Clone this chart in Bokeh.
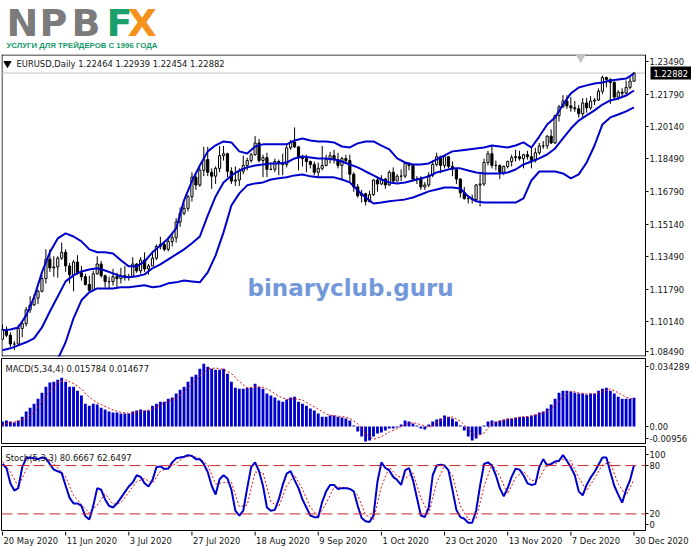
from bokeh.plotting import figure
from bokeh.layouts import column
from bokeh.models import Range1d, FixedTicker, Span, Label
from bokeh.embed import file_html
from bokeh.resources import INLINE
from bokeh.core.properties import value

# ---------------- texts ----------------
logo_letters = ["N", "P", "B", "F", "X"]
logo_subtitle = "УСЛУГИ ДЛЯ ТРЕЙДЕРОВ С 1996 ГОДА"
symbol_header = "EURUSD,Daily 1.22464 1.22939 1.22454 1.22882"
macd_header = "MACD(5,34,4) 0.015784 0.014677"
stoch_header = "Stoch(5,3,3) 80.6667 62.6497"
watermark = "binaryclub.guru"
last_close = 1.22882

date_tick_bars = [0, 16, 32, 48, 64, 80, 96, 112, 128, 144, 160]
date_tick_labels = ["20 May 2020", "11 Jun 2020", "3 Jul 2020", "27 Jul 2020", "18 Aug 2020",
                    "9 Sep 2020", "1 Oct 2020", "23 Oct 2020", "13 Nov 2020", "7 Dec 2020", "30 Dec 2020"]
price_tick_pos = [1.08618, 1.10140, 1.11790, 1.13490, 1.15140, 1.16790, 1.18490, 1.20140, 1.21790, 1.23490]
price_tick_text = ["1.08490", "1.10140", "1.11790", "1.13490", "1.15140", "1.16790", "1.18490",
                   "1.20140", "1.21790", "1.23490"]
macd_tick_pos = [0.0328, 0.0, -0.0064]
macd_tick_text = ["0.034289", "0.00", "-0.00956"]
stoch_tick_pos = [93.8, 80, 20, 6.8]
stoch_tick_text = ["100", "80", "20", "0"]
stoch_levels = [80, 20]

# ---------------- daily candles (bar 0 = 20 May 2020 ... bar 160 = 30 Dec 2020) ----------------
opens = [
    1.0925, 1.0975, 1.0945, 1.0900, 1.0900, 1.0980, 1.1005, 1.1075, 1.1100, 1.1135,
    1.1170, 1.1235, 1.1335, 1.1290, 1.1295, 1.1340, 1.1370, 1.1300, 1.1255, 1.1320,
    1.1265, 1.1245, 1.1205, 1.1175, 1.1260, 1.1310, 1.1250, 1.1220, 1.1220, 1.1245,
    1.1235, 1.1250, 1.1240, 1.1245, 1.1310, 1.1275, 1.1330, 1.1285, 1.1300, 1.1340,
    1.1400, 1.1410, 1.1385, 1.1425, 1.1445, 1.1525, 1.1570, 1.1595, 1.1655, 1.1755,
    1.1715, 1.1790, 1.1845, 1.1780, 1.1760, 1.1800, 1.1865, 1.1875, 1.1785, 1.1735,
    1.1740, 1.1785, 1.1815, 1.1840, 1.1870, 1.1930, 1.1840, 1.1855, 1.1795, 1.1795,
    1.1835, 1.1830, 1.1820, 1.1905, 1.1935, 1.1910, 1.1855, 1.1850, 1.1835, 1.1820,
    1.1780, 1.1800, 1.1815, 1.1845, 1.1865, 1.1845, 1.1815, 1.1850, 1.1840, 1.1770,
    1.1705, 1.1660, 1.1670, 1.1630, 1.1665, 1.1740, 1.1720, 1.1745, 1.1715, 1.1780,
    1.1735, 1.1760, 1.1760, 1.1825, 1.1815, 1.1745, 1.1745, 1.1705, 1.1715, 1.1765,
    1.1820, 1.1860, 1.1815, 1.1860, 1.1810, 1.1795, 1.1745, 1.1675, 1.1645, 1.1645,
    1.1640, 1.1715, 1.1720, 1.1830, 1.1875, 1.1815, 1.1815, 1.1780, 1.1810, 1.1835,
    1.1855, 1.1860, 1.1850, 1.1870, 1.1860, 1.1840, 1.1880, 1.1915, 1.1915, 1.1965,
    1.1930, 1.2070, 1.2115, 1.2145, 1.2120, 1.2110, 1.2105, 1.2080, 1.2135, 1.2110,
    1.2145, 1.2150, 1.2195, 1.2265, 1.2255, 1.2240, 1.2165, 1.2190, 1.2185, 1.2215,
    1.22464]
highs = [
    1.1000, 1.0990, 1.0960, 1.0915, 1.1000, 1.1010, 1.1090, 1.1145, 1.1155, 1.1180,
    1.1255, 1.1385, 1.1385, 1.1350, 1.1350, 1.1420, 1.1385, 1.1315, 1.1330, 1.1355,
    1.1300, 1.1260, 1.1250, 1.1275, 1.1350, 1.1325, 1.1255, 1.1245, 1.1285, 1.1265,
    1.1290, 1.1300, 1.1260, 1.1345, 1.1315, 1.1345, 1.1370, 1.1310, 1.1375, 1.1410,
    1.1450, 1.1425, 1.1450, 1.1470, 1.1545, 1.1600, 1.1620, 1.1665, 1.1780, 1.1770,
    1.1805, 1.1910, 1.1910, 1.1800, 1.1810, 1.1915, 1.1915, 1.1880, 1.1805, 1.1810,
    1.1800, 1.1865, 1.1855, 1.1880, 1.1965, 1.1950, 1.1870, 1.1880, 1.1830, 1.1850,
    1.1845, 1.1875, 1.1925, 1.1945, 1.2010, 1.1915, 1.1870, 1.1870, 1.1840, 1.1835,
    1.1830, 1.1915, 1.1870, 1.1885, 1.1895, 1.1880, 1.1860, 1.1870, 1.1870, 1.1780,
    1.1720, 1.1690, 1.1675, 1.1685, 1.1745, 1.1755, 1.1765, 1.1750, 1.1790, 1.1805,
    1.1770, 1.1795, 1.1830, 1.1830, 1.1820, 1.1760, 1.1760, 1.1730, 1.1780, 1.1840,
    1.1880, 1.1865, 1.1865, 1.1860, 1.1835, 1.1800, 1.1750, 1.1705, 1.1660, 1.1665,
    1.1720, 1.1770, 1.1850, 1.1890, 1.1920, 1.1840, 1.1820, 1.1815, 1.1840, 1.1870,
    1.1895, 1.1890, 1.1875, 1.1890, 1.1905, 1.1905, 1.1930, 1.1940, 1.1970, 1.2000,
    1.2075, 1.2125, 1.2175, 1.2175, 1.2165, 1.2145, 1.2125, 1.2160, 1.2160, 1.2170,
    1.2160, 1.2210, 1.2275, 1.2270, 1.2262, 1.2250, 1.2200, 1.2210, 1.2250, 1.2275,
    1.22939]
lows = [
    1.0920, 1.0935, 1.0885, 1.0870, 1.0890, 1.0935, 1.0990, 1.1060, 1.1095, 1.1105,
    1.1165, 1.1210, 1.1270, 1.1245, 1.1240, 1.1330, 1.1270, 1.1210, 1.1170, 1.1255,
    1.1225, 1.1200, 1.1170, 1.1170, 1.1255, 1.1240, 1.1190, 1.1180, 1.1200, 1.1190,
    1.1210, 1.1225, 1.1225, 1.1245, 1.1265, 1.1260, 1.1270, 1.1255, 1.1300, 1.1330,
    1.1385, 1.1375, 1.1375, 1.1400, 1.1420, 1.1500, 1.1560, 1.1580, 1.1630, 1.1690,
    1.1705, 1.1760, 1.1760, 1.1695, 1.1720, 1.1780, 1.1840, 1.1755, 1.1720, 1.1710,
    1.1710, 1.1770, 1.1790, 1.1830, 1.1865, 1.1830, 1.1755, 1.1755, 1.1790, 1.1780,
    1.1765, 1.1765, 1.1805, 1.1895, 1.1905, 1.1790, 1.1810, 1.1780, 1.1800, 1.1765,
    1.1755, 1.1790, 1.1810, 1.1825, 1.1825, 1.1800, 1.1740, 1.1830, 1.1730, 1.1680,
    1.1650, 1.1625, 1.1610, 1.1625, 1.1660, 1.1680, 1.1715, 1.1695, 1.1710, 1.1730,
    1.1735, 1.1735, 1.1750, 1.1790, 1.1735, 1.1720, 1.1690, 1.1690, 1.1705, 1.1755,
    1.1810, 1.1775, 1.1800, 1.1800, 1.1760, 1.1720, 1.1650, 1.1640, 1.1620, 1.1620,
    1.1630, 1.1605, 1.1710, 1.1815, 1.1800, 1.1790, 1.1745, 1.1765, 1.1800, 1.1810,
    1.1835, 1.1840, 1.1800, 1.1845, 1.1800, 1.1830, 1.1870, 1.1900, 1.1900, 1.1925,
    1.1925, 1.2040, 1.2110, 1.2105, 1.2090, 1.2090, 1.2060, 1.2060, 1.2085, 1.2100,
    1.2125, 1.2145, 1.2180, 1.2215, 1.2130, 1.2155, 1.2150, 1.2170, 1.2180, 1.2205,
    1.22454]
closes = [
    1.0975, 1.0945, 1.0900, 1.0900, 1.0980, 1.1005, 1.1075, 1.1100, 1.1135, 1.1170,
    1.1235, 1.1335, 1.1290, 1.1295, 1.1340, 1.1370, 1.1300, 1.1255, 1.1320, 1.1265,
    1.1245, 1.1205, 1.1175, 1.1260, 1.1310, 1.1250, 1.1220, 1.1220, 1.1245, 1.1235,
    1.1250, 1.1240, 1.1245, 1.1310, 1.1275, 1.1330, 1.1285, 1.1300, 1.1340, 1.1400,
    1.1410, 1.1385, 1.1425, 1.1445, 1.1525, 1.1570, 1.1595, 1.1655, 1.1755, 1.1715,
    1.1790, 1.1845, 1.1780, 1.1760, 1.1800, 1.1865, 1.1875, 1.1785, 1.1735, 1.1740,
    1.1785, 1.1815, 1.1840, 1.1870, 1.1930, 1.1840, 1.1855, 1.1795, 1.1795, 1.1835,
    1.1830, 1.1820, 1.1905, 1.1935, 1.1910, 1.1855, 1.1850, 1.1835, 1.1820, 1.1780,
    1.1800, 1.1815, 1.1845, 1.1865, 1.1845, 1.1815, 1.1850, 1.1840, 1.1770, 1.1705,
    1.1660, 1.1670, 1.1630, 1.1665, 1.1740, 1.1720, 1.1745, 1.1715, 1.1780, 1.1735,
    1.1760, 1.1760, 1.1825, 1.1815, 1.1745, 1.1745, 1.1705, 1.1715, 1.1765, 1.1820,
    1.1860, 1.1815, 1.1860, 1.1810, 1.1795, 1.1745, 1.1675, 1.1645, 1.1645, 1.1640,
    1.1715, 1.1720, 1.1830, 1.1875, 1.1815, 1.1815, 1.1780, 1.1810, 1.1835, 1.1855,
    1.1860, 1.1850, 1.1870, 1.1860, 1.1840, 1.1880, 1.1915, 1.1915, 1.1965, 1.1930,
    1.2070, 1.2115, 1.2145, 1.2120, 1.2110, 1.2105, 1.2080, 1.2135, 1.2110, 1.2145,
    1.2150, 1.2195, 1.2265, 1.2255, 1.2240, 1.2165, 1.2190, 1.2185, 1.2215, 1.22464,
    1.22882]

# ---------------- Bollinger bands, read every second bar ----------------
band_bars = list(range(0, 161, 2))
bb_upper = [
    1.0970, 1.0975, 1.0985, 1.1047, 1.1139, 1.1267, 1.1370, 1.1441, 1.1467, 1.1451,
    1.1426, 1.1385, 1.1370, 1.1370, 1.1364, 1.1329, 1.1298, 1.1298, 1.1323, 1.1370,
    1.1405, 1.1441, 1.1492, 1.1636, 1.1735, 1.1815, 1.1887, 1.1918, 1.1938, 1.1933,
    1.1887, 1.1876, 1.1912, 1.1923, 1.1923, 1.1923, 1.1923, 1.1943, 1.1953, 1.1943,
    1.1938, 1.1938, 1.1933, 1.1912, 1.1907, 1.1928, 1.1938, 1.1938, 1.1917, 1.1897,
    1.1851, 1.1830, 1.1820, 1.1820, 1.1825, 1.1846, 1.1866, 1.1887, 1.1892, 1.1897,
    1.1902, 1.1907, 1.1917, 1.1912, 1.1907, 1.1917, 1.1933, 1.1907, 1.1963, 1.2025,
    1.2061, 1.2127, 1.2184, 1.2214, 1.2225, 1.2235, 1.2240, 1.2250, 1.2255, 1.2260,
    1.2286]
bb_middle = [
    1.0868, 1.0878, 1.0893, 1.0909, 1.0929, 1.0985, 1.1067, 1.1144, 1.1221, 1.1252,
    1.1272, 1.1282, 1.1288, 1.1277, 1.1262, 1.1247, 1.1242, 1.1247, 1.1257, 1.1288,
    1.1308, 1.1334, 1.1359, 1.1385, 1.1416, 1.1451, 1.1558, 1.1656, 1.1728, 1.1764,
    1.1789, 1.1805, 1.1815, 1.1820, 1.1825, 1.1825, 1.1830, 1.1851, 1.1861, 1.1856,
    1.1851, 1.1851, 1.1846, 1.1835, 1.1820, 1.1805, 1.1784, 1.1764, 1.1743, 1.1728,
    1.1723, 1.1728, 1.1738, 1.1748, 1.1759, 1.1779, 1.1789, 1.1800, 1.1800, 1.1789,
    1.1779, 1.1774, 1.1774, 1.1774, 1.1779, 1.1794, 1.1820, 1.1835, 1.1851, 1.1871,
    1.1902, 1.1953, 1.2004, 1.2045, 1.2071, 1.2097, 1.2127, 1.2148, 1.2158, 1.2173,
    1.2199]
bb_lower = [
    1.0800, 1.0805, 1.0810, 1.0800, 1.0785, 1.0770, 1.0775, 1.0822, 1.0909, 1.1032,
    1.1124, 1.1165, 1.1185, 1.1185, 1.1185, 1.1191, 1.1191, 1.1196, 1.1201, 1.1191,
    1.1196, 1.1211, 1.1216, 1.1226, 1.1221, 1.1216, 1.1267, 1.1354, 1.1472, 1.1610,
    1.1672, 1.1713, 1.1723, 1.1728, 1.1743, 1.1749, 1.1754, 1.1764, 1.1769, 1.1759,
    1.1754, 1.1754, 1.1754, 1.1743, 1.1728, 1.1687, 1.1651, 1.1620, 1.1625, 1.1631,
    1.1636, 1.1641, 1.1651, 1.1666, 1.1682, 1.1692, 1.1702, 1.1702, 1.1697, 1.1656,
    1.1631, 1.1625, 1.1625, 1.1625, 1.1625, 1.1625, 1.1646, 1.1738, 1.1784, 1.1784,
    1.1784, 1.1774, 1.1749, 1.1769, 1.1830, 1.1917, 1.2025, 1.2061, 1.2076, 1.2092,
    1.2112]

# ---------------- MACD(5,34,4) ----------------
macd_hist = [
    0.0027, 0.0033, 0.0027, 0.0022, 0.0033, 0.0054, 0.0082, 0.0103, 0.0125, 0.0152,
    0.0185, 0.0218, 0.0240, 0.0245, 0.0256, 0.0267, 0.0245, 0.0218, 0.0218, 0.0196,
    0.0169, 0.0125, 0.0114, 0.0125, 0.0120, 0.0103, 0.0093, 0.0082, 0.0076, 0.0076,
    0.0071, 0.0071, 0.0071, 0.0082, 0.0087, 0.0093, 0.0087, 0.0087, 0.0114, 0.0125,
    0.0136, 0.0136, 0.0152, 0.0158, 0.0180, 0.0201, 0.0218, 0.0245, 0.0272, 0.0283,
    0.0316, 0.0343, 0.0327, 0.0316, 0.0310, 0.0310, 0.0316, 0.0289, 0.0245, 0.0212,
    0.0207, 0.0207, 0.0212, 0.0212, 0.0234, 0.0218, 0.0207, 0.0180, 0.0169, 0.0158,
    0.0142, 0.0136, 0.0147, 0.0158, 0.0163, 0.0136, 0.0125, 0.0114, 0.0098, 0.0087,
    0.0071, 0.0054, 0.0054, 0.0060, 0.0060, 0.0054, 0.0049, 0.0044, 0.0033, 0.0005,
    -0.0027, -0.0054, -0.0082, -0.0076, -0.0054, -0.0038, -0.0033, -0.0022, -0.0011, -0.0011,
    -0.0005, 0.0011, 0.0033, 0.0027, 0.0016, 0.0005, -0.0011, -0.0016, 0.0011, 0.0027,
    0.0038, 0.0044, 0.0060, 0.0054, 0.0044, 0.0027, 0.0005, -0.0022, -0.0054, -0.0076,
    -0.0065, -0.0044, 0.0005, 0.0027, 0.0033, 0.0027, 0.0033, 0.0038, 0.0044, 0.0044,
    0.0049, 0.0054, 0.0054, 0.0054, 0.0060, 0.0065, 0.0076, 0.0082, 0.0098, 0.0120,
    0.0152, 0.0185, 0.0196, 0.0196, 0.0191, 0.0185, 0.0180, 0.0180, 0.0174, 0.0180,
    0.0180, 0.0196, 0.0207, 0.0212, 0.0196, 0.0180, 0.0163, 0.0152, 0.0152, 0.0152,
    0.015784]
macd_signal = [
    0.0010, 0.0022, 0.0028, 0.0045, 0.0080, 0.0135, 0.0195, 0.0240, 0.0255, 0.0235,
    0.0205, 0.0160, 0.0130, 0.0110, 0.0090, 0.0078, 0.0072, 0.0078, 0.0085, 0.0095,
    0.0118, 0.0138, 0.0155, 0.0190, 0.0230, 0.0275, 0.0315, 0.0320, 0.0312, 0.0290,
    0.0245, 0.0212, 0.0215, 0.0215, 0.0195, 0.0165, 0.0148, 0.0152, 0.0145, 0.0120,
    0.0095, 0.0068, 0.0058, 0.0055, 0.0045, 0.0015, -0.0040, -0.0070, -0.0055, -0.0030,
    -0.0012, 0.0010, 0.0022, 0.0010, -0.0005, 0.0020, 0.0045, 0.0052, 0.0030, -0.0015,
    -0.0055, -0.0035, 0.0015, 0.0030, 0.0038, 0.0045, 0.0053, 0.0057, 0.0068, 0.0082,
    0.0115, 0.0165, 0.0193, 0.0185, 0.0178, 0.0178, 0.0190, 0.0205, 0.0185, 0.0160,
    0.014677]

# ---------------- Stochastic(5,3,3) ----------------
stoch_main = [
    82, 77, 58, 49, 52, 78, 89, 90, 89, 88,
    90, 89, 82, 75, 73, 71, 55, 40, 33, 33,
    30, 17, 13, 30, 52, 50, 38, 30, 28, 33,
    40, 47, 54, 59, 68, 66, 58, 54, 62, 78,
    79, 76, 76, 84, 89, 90, 91, 93, 92, 88,
    88, 82, 72, 55, 44, 63, 68, 64, 50, 24,
    18, 24, 52, 78, 84, 73, 55, 28, 24, 25,
    38, 56, 70, 73, 62, 52, 38, 28, 18, 16,
    16, 35, 48, 56, 56, 51, 52, 52, 51, 48,
    30, 15, 11, 10, 18, 60, 84, 77, 74, 66,
    62, 56, 74, 77, 62, 40, 18, 16, 28, 68,
    80, 81, 80, 74, 50, 25, 16, 14, 9, 9,
    24, 55, 82, 84, 80, 68, 52, 42, 52, 66,
    76, 75, 68, 58, 56, 57, 78, 88, 80, 82,
    85, 86, 93, 86, 78, 68, 48, 43, 56, 65,
    72, 81, 90, 90, 72, 55, 44, 34, 50, 62,
    80.6667]
stoch_signal = [
    85, 72, 54, 75, 89, 89, 87, 77, 66, 43,
    32, 21, 31, 45, 32, 34, 47, 60, 64, 58,
    73, 77, 83, 90, 92, 89, 81, 57, 59, 59,
    29, 31, 72, 71, 35, 29, 55, 68, 51, 28,
    17, 33, 53, 53, 52, 43, 19, 13, 54, 78,
    67, 64, 71, 40, 20, 59, 80, 68, 30, 13,
    14, 54, 82, 67, 45, 65, 73, 61, 64, 82,
    82, 88, 86, 65, 49, 64, 81, 84, 57, 43,
    62.6497]

# ---------------- styling / layout ----------------
FONT = "DejaVu Sans"
FS = "8.4px"
TXT = "#141414"
BLUE = "#0000CD"
RED = "#E01010"
PPB = 3.947                    # pixels per bar
X0 = -0.25                     # left frame edge, in bars
PANEL_W = 644                  # frame width up to the price scale line
X_EDGE = X0 + PANEL_W / PPB    # price scale line, in bars
H_MAIN, H_MACD, H_STO = 302, 85, 84
PRICE_RANGE = (1.08362, 1.23833)
MACD_RANGE = (-0.00929, 0.03718)
STO_RANGE = (-0.6, 103.7)


def xd(px):
    return X0 + px / PPB


def yd(py, rng, h):
    return rng[1] - py * (rng[1] - rng[0]) / h


def style_axis(ax):
    ax.major_label_text_font = FONT
    ax.major_label_text_font_size = FS
    ax.major_label_text_color = TXT
    ax.axis_line_color = "black"
    ax.major_tick_line_color = "black"
    ax.major_tick_out = 3
    ax.major_tick_in = 0
    ax.minor_tick_line_color = None
    ax.major_label_standoff = 1


def sub_panel(h, rng, top):
    p = figure(frame_width=PANEL_W, frame_height=h, x_range=Range1d(X0, X_EDGE),
               y_range=Range1d(*rng), output_backend="svg", toolbar_location=None,
               x_axis_location=None, y_axis_location="right", min_border_left=1,
               min_border_right=0, min_border_top=top, min_border_bottom=1,
               outline_line_color="black", outline_line_width=1,
               background_fill_color="white", border_fill_color="white")
    p.grid.visible = False
    style_axis(p.yaxis[0])
    return p


def header(p, text, px, py, rng, h):
    p.add_layout(Label(x=xd(px), y=yd(py, rng, h), text=text, text_font=FONT,
                       text_font_size=FS, text_color=TXT, text_baseline="middle"))


# ---- logo strip ----
logo = figure(frame_width=691, frame_height=53, x_range=Range1d(0, 691), y_range=Range1d(0, 53),
              output_backend="svg", toolbar_location=None, x_axis_location=None,
              y_axis_location=None, min_border=0, outline_line_color=None)
logo.grid.visible = False
logo_x = [5, 38, 70, 105, 126]
logo_colors = ["#7B7B7B", "#7B7B7B", "#7B7B7B", "#1A9E6C", "#F5921E"]
logo.text(x=logo_x, y=31, text=logo_letters, text_font=value(FONT), text_font_style="bold",
          text_font_size="38px", text_color=logo_colors, text_baseline="middle")
logo.text(x=[5], y=[8], text=[logo_subtitle], text_font=value("Liberation Sans"),
          text_font_style="bold", text_font_size="7.8px", text_color="#159A68",
          text_baseline="middle")

# ---- price panel (frame runs under the price scale; the scale sits at X_EDGE) ----
pm = figure(frame_width=690, frame_height=H_MAIN, x_range=Range1d(X0, X0 + 690 / PPB),
            y_range=Range1d(*PRICE_RANGE), output_backend="svg", toolbar_location=None,
            x_axis_location=None, y_axis_location="right", min_border_left=1,
            min_border_right=0, min_border_top=1, min_border_bottom=1,
            outline_line_color=None, background_fill_color="white", border_fill_color="white")
pm.grid.visible = False
pm.yaxis.fixed_location = X_EDGE
pm.yaxis.ticker = FixedTicker(ticks=price_tick_pos)
pm.yaxis.major_label_overrides = dict(zip(price_tick_pos, price_tick_text))
style_axis(pm.yaxis[0])
half_px_y = (PRICE_RANGE[1] - PRICE_RANGE[0]) / H_MAIN * 0.5
pm.segment(x0=[X0, X0, xd(0.5)], x1=[X_EDGE, X_EDGE, xd(0.5)],
           y0=[PRICE_RANGE[1] - half_px_y, PRICE_RANGE[0] + half_px_y, PRICE_RANGE[0]],
           y1=[PRICE_RANGE[1] - half_px_y, PRICE_RANGE[0] + half_px_y, PRICE_RANGE[1]],
           line_color="black", line_width=1)
pm.segment(x0=[X0], x1=[X_EDGE], y0=[last_close], y1=[last_close], line_color="#C0C0C0",
           line_width=1)
pm.text(x=[88.2], y=[1.1185], text=[watermark], text_font=value(FONT), text_font_style="bold",
        text_font_size="23px", text_color="#7398DA", text_align="center", text_baseline="alphabetic")
bars = list(range(len(closes)))
pm.segment(x0=bars, y0=lows, x1=bars, y1=highs, line_color="black", line_width=1)
bull = [i for i in bars if closes[i] >= opens[i]]
bear = [i for i in bars if closes[i] < opens[i]]
pm.vbar(x=bull, top=[closes[i] for i in bull], bottom=[opens[i] for i in bull], width=0.55,
        fill_color="white", line_color="black", line_width=1)
pm.vbar(x=bear, top=[opens[i] for i in bear], bottom=[closes[i] for i in bear], width=0.55,
        fill_color="black", line_color="black", line_width=1)
for band in (bb_upper, bb_middle, bb_lower):
    pm.line(band_bars, band, line_color=BLUE, line_width=2)
pm.scatter(x=[xd(6)], y=[yd(9, PRICE_RANGE, H_MAIN)], marker="inverted_triangle", size=7,
           fill_color="black", line_color="black")
pm.scatter(x=[146.5], y=[yd(3, PRICE_RANGE, H_MAIN)], marker="inverted_triangle", size=10,
           fill_color="#C4C4C4", line_color=None)
header(pm, symbol_header, 15, 9, PRICE_RANGE, H_MAIN)
pm.add_layout(Label(x=X_EDGE, y=last_close, x_offset=5, text="1.22882", text_font=FONT,
                    text_font_size=FS, text_color="white", text_baseline="middle",
                    background_fill_color="black", padding=3))

# ---- MACD panel ----
pc = sub_panel(H_MACD, MACD_RANGE, 1)
pc.yaxis.ticker = FixedTicker(ticks=macd_tick_pos)
pc.yaxis.major_label_overrides = dict(zip(macd_tick_pos, macd_tick_text))
pc.vbar(x=bars, top=macd_hist, bottom=0, width=0.72, fill_color=BLUE, line_color=None)
pc.line(band_bars, macd_signal, line_color=RED, line_width=1, line_dash="2 2")
header(pc, macd_header, 4, 10, MACD_RANGE, H_MACD)

# ---- Stochastic panel ----
ps = sub_panel(H_STO, STO_RANGE, 2)
ps.yaxis.ticker = FixedTicker(ticks=stoch_tick_pos)
ps.yaxis.major_label_overrides = dict(zip(stoch_tick_pos, stoch_tick_text))
for lv in stoch_levels:
    ps.add_layout(Span(location=lv, dimension="width", line_color="#D02828", line_width=1,
                       line_dash="11 5"))
ps.line(band_bars, stoch_signal, line_color=RED, line_width=1, line_dash="2 2")
ps.line(bars, stoch_main, line_color=BLUE, line_width=2)
header(ps, stoch_header, 4, 11, STO_RANGE, H_STO)

# ---- date axis strip ----
pdx = figure(frame_width=690, frame_height=18, x_range=Range1d(X0, X0 + 690 / PPB),
             y_range=Range1d(0, 18), output_backend="svg", toolbar_location=None,
             x_axis_location=None, y_axis_location=None, min_border_left=1, min_border_right=0,
             min_border_top=0, min_border_bottom=0, outline_line_color=None)
pdx.grid.visible = False
pdx.segment(x0=date_tick_bars, y0=18, x1=date_tick_bars, y1=14, line_color="black", line_width=1)
pdx.text(x=date_tick_bars, y=9, text=date_tick_labels, text_font=value(FONT),
         text_font_size=FS, text_color=TXT, text_align="left", text_baseline="middle",
         x_offset=1)

layout = column(logo, pm, pc, ps, pdx, spacing=0)
open("out.html", "w").write(file_html(layout, INLINE))
